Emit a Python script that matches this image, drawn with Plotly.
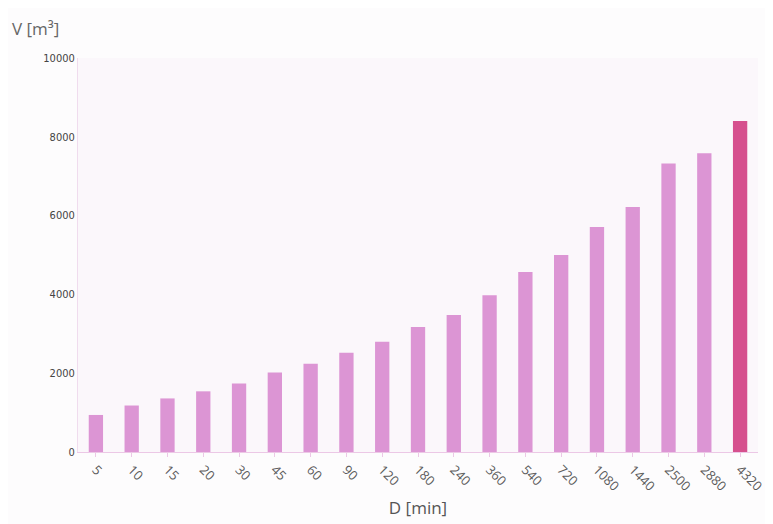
import plotly.graph_objects as go

durations = ["5", "10", "15", "20", "30", "45", "60", "90", "120", "180", "240",
             "360", "540", "720", "1080", "1440", "2500", "2880", "4320"]
volumes = [940, 1180, 1360, 1540, 1740, 2020, 2240, 2520, 2800, 3170, 3480,
           3980, 4570, 5000, 5710, 6220, 7320, 7580, 8400]
y_ticks = [0, 2000, 4000, 6000, 8000, 10000]
y_tick_labels = [str(v) for v in y_ticks]

bar_colors = ["#dc95d4"] * (len(durations) - 1) + ["#d6508e"]

fig = go.Figure(go.Bar(
    x=durations, y=volumes,
    marker=dict(color=bar_colors, line=dict(width=0)),
    width=0.4,
))

fig.update_layout(
    width=765, height=516,
    margin=dict(l=70, r=15, t=50, b=72),
    paper_bgcolor="#fdfcfd",
    plot_bgcolor="#fbf7fb",
    showlegend=False,
    font=dict(family="Liberation Sans", color="#555555"),
    annotations=[dict(
        text="V [m³]", xref="paper", yref="paper",
        x=-68/680, y=1.0, xanchor="left", yanchor="bottom", yshift=16,
        showarrow=False, font=dict(size=17, color="#666666", family="Open Sans"),
    )],
)
fig.update_xaxes(
    type="category",
    tickangle=45,
    automargin=False,
    tickfont=dict(size=13, color="#5a5a5a", family="Open Sans"),
    showline=True, linecolor="#ecc8e6", linewidth=1,
    ticks="outside", tickcolor="#ecc8e6", ticklen=4,
    showgrid=False,
    title=dict(text="D [min]", font=dict(size=17, color="#555555", family="Open Sans"), standoff=8),
)
fig.update_yaxes(
    range=[0, 10000],
    automargin=False,
    tickvals=y_ticks, ticktext=y_tick_labels,
    tickfont=dict(size=11, color="#444444", family="DejaVu Sans Condensed"),
    showline=True, linecolor="#f0dcee", linewidth=1,
    ticks="", showgrid=False, zeroline=False,
)

fig.write_html("out.html")
